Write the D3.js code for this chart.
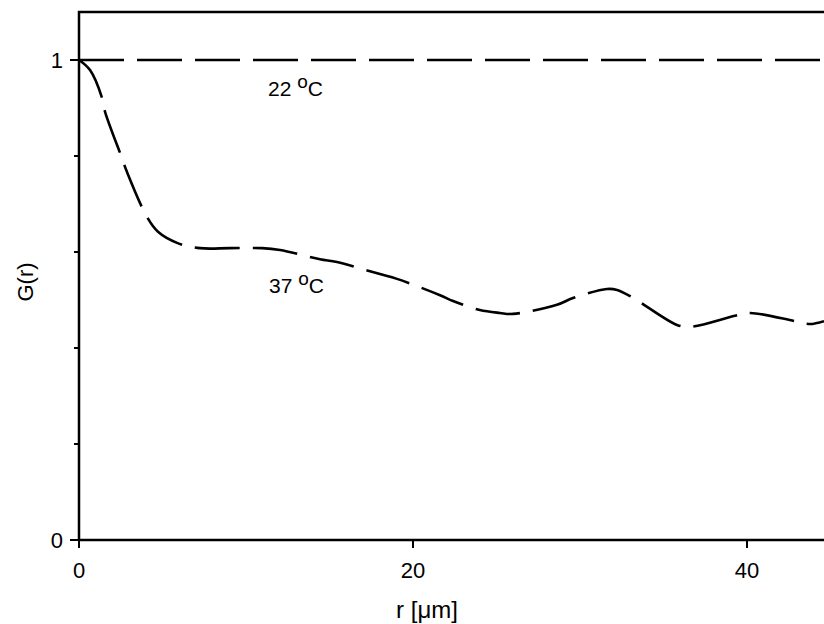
<!DOCTYPE html>
<html>
<head>
<meta charset="utf-8">
<script src="https://cdn.jsdelivr.net/npm/d3@7"></script>
<style>
  body { margin: 0; background: #fff; }
  svg text { font-family: Arial, "Liberation Sans", sans-serif; fill: #000; }
</style>
</head>
<body>
<svg id="chart" width="824" height="624"></svg>
<script>
// values
const r37 = [0, 0.66, 1.38, 1.56, 2.57, 2.87, 4.07, 4.73, 5.87, 7.25, 9.04, 10.96, 12.04, 14.43, 15.45, 18.02, 19.04, 21.62, 22.4, 24.0, 25.21, 25.99, 28.62, 29.58, 31.62, 32.22, 33.11, 35.81, 36.59, 39.28, 40.18, 42.87, 43.77, 44.61];
const g37 = [1.0, 0.979, 0.921, 0.892, 0.796, 0.767, 0.673, 0.642, 0.619, 0.608, 0.608, 0.608, 0.604, 0.585, 0.579, 0.554, 0.544, 0.51, 0.498, 0.479, 0.473, 0.471, 0.49, 0.504, 0.523, 0.521, 0.506, 0.448, 0.444, 0.467, 0.473, 0.456, 0.45, 0.456];
const r22 = [0, 44.61];
const g22 = [1, 1];
const xTicks = [0, 20, 40];
const yTicksMajor = [0, 1];
const yTicksMinor = [0.2, 0.4, 0.6, 0.8];

const svg = d3.select("#chart");
const x = d3.scaleLinear().domain([0, 44.61]).range([79, 824]);
const y = d3.scaleLinear().domain([0, 1.1]).range([540, 12]);

// frame
svg.append("path")
  .attr("d", `M${x(0)},${y(0)} V${y(1.1)} H830`)
  .attr("fill", "none").attr("stroke", "#000").attr("stroke-width", 2.5);
svg.append("line")
  .attr("x1", x(0)).attr("x2", 830).attr("y1", y(0)).attr("y2", y(0))
  .attr("stroke", "#000").attr("stroke-width", 2.5);

// y axis ticks
const yAxis = svg.append("g").attr("transform", `translate(${x(0)},0)`);
yAxis.selectAll("line.major").data(yTicksMajor).enter().append("line")
  .attr("x1", -9).attr("x2", 0).attr("y1", d => y(d)).attr("y2", d => y(d))
  .attr("stroke", "#000").attr("stroke-width", 2);
yAxis.selectAll("line.minor").data(yTicksMinor).enter().append("line")
  .attr("x1", -5).attr("x2", 0).attr("y1", d => y(d)).attr("y2", d => y(d))
  .attr("stroke", "#000").attr("stroke-width", 2);
yAxis.selectAll("text").data(yTicksMajor).enter().append("text")
  .attr("x", -16).attr("y", d => y(d) + 8)
  .attr("text-anchor", "end").style("font-size", "22px")
  .text(d => d);

// x axis ticks
const xAxis = svg.append("g").attr("transform", `translate(0,${y(0)})`);
xAxis.selectAll("line").data(xTicks).enter().append("line")
  .attr("x1", d => x(d)).attr("x2", d => x(d)).attr("y1", 0).attr("y2", 8)
  .attr("stroke", "#000").attr("stroke-width", 2);
xAxis.selectAll("text").data(xTicks).enter().append("text")
  .attr("x", d => x(d)).attr("y", 38)
  .attr("text-anchor", "middle").style("font-size", "22px")
  .text(d => d);

// axis titles
svg.append("text").attr("x", 427).attr("y", 618)
  .attr("text-anchor", "middle").style("font-size", "24px")
  .text("r [μm]");
svg.append("text")
  .attr("transform", "translate(33,282) rotate(-90)")
  .attr("text-anchor", "middle").style("font-size", "22px")
  .text("G(r)");

// curves
const line = d3.line().x(d => x(d[0])).y(d => y(d[1])).curve(d3.curveCatmullRom);
const drawSeries = (rs, gs) =>
  svg.append("path")
    .datum(rs.map((v, i) => [v, gs[i]]))
    .attr("fill", "none").attr("stroke", "#000").attr("stroke-width", 2.6)
    .attr("stroke-dasharray", "45,13")
    .attr("d", line);
drawSeries(r22, g22);
drawSeries(r37, g37);

// labels
const tempLabel = (px, py, num) => {
  const t = svg.append("text").attr("x", px).attr("y", py).style("font-size", "21px");
  t.append("tspan").text(num + " ");
  t.append("tspan").attr("dy", -8).style("font-size", "19px").text("o");
  t.append("tspan").attr("dy", 8).text("C");
};
tempLabel(268, 96, "22");
tempLabel(269, 293, "37");
</script>
</body>
</html>
